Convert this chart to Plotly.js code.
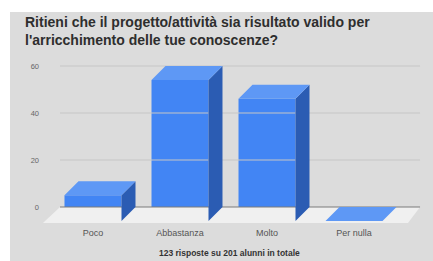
<!DOCTYPE html>
<html>
<head>
<meta charset="utf-8">
<script src="https://cdn.plot.ly/plotly-3.0.1.min.js"></script>
<style>
html,body{margin:0;padding:0;background:#ffffff;width:433px;height:261px;overflow:hidden;}
#chart{position:absolute;left:10px;top:12px;width:423px;height:249px;}
</style>
</head>
<body>
<div id="chart"></div>
<script>
// ---- data ----
const categories = ["Poco", "Abbastanza", "Molto", "Per nulla"];
const values = [11, 60, 52, 0];
const yTickVals = [0, 20, 40, 60];
const titleLine1 = "Ritieni che il progetto/attività sia risultato valido per";
const titleLine2 = "l'arricchimento delle tue conoscenze?";
const footnote = "123 risposte su 201 alunni in totale";

// ---- style / geometry (in axis units) ----
const barW = 0.655;       // front face width
const depthX = 0.161;     // 3D depth offset along x
const depthY = 5.96;      // 3D depth offset along y
const wallLeft = -0.379, wallRight = 3.759;
const floorFront = -6.8, floorFL = -0.575, floorFR = 3.621;
const cFront = "#4285f4", cSide = "#2b5cb3", cTop = "#5e98f5";
const bg = "#dcdcdc";

const xs = categories.map((c, i) => i);
const traces = [];

// floor
traces.push({type: "scatter", mode: "lines", fill: "toself", fillcolor: "#f0f0f0",
  line: {width: 0}, hoverinfo: "skip", showlegend: false,
  x: [wallLeft, wallRight, floorFR, floorFL, wallLeft],
  y: [0, 0, floorFront, floorFront, 0]});

// gridlines on back wall
yTickVals.forEach(v => {
  traces.push({type: "scatter", mode: "lines", hoverinfo: "skip", showlegend: false,
    x: [wallLeft, wallRight], y: [v, v],
    line: {color: v === 0 ? "#7a7a7a" : "#c6c6c6", width: 1}});
});

// side and top faces
xs.forEach((x, i) => {
  const v = values[i];
  const r = x + barW / 2, l = x - barW / 2;
  traces.push({type: "scatter", mode: "lines", fill: "toself", fillcolor: cSide,
    line: {width: 0}, hoverinfo: "skip", showlegend: false,
    x: [r, r + depthX, r + depthX, r, r],
    y: [-depthY, 0, v, v - depthY, -depthY]});
  traces.push({type: "scatter", mode: "lines", fill: "toself", fillcolor: cTop,
    line: {width: 0}, hoverinfo: "skip", showlegend: false,
    x: [l, r, r + depthX, l + depthX, l],
    y: [v - depthY, v - depthY, v, v, v - depthY]});
});

// front faces
traces.push({type: "bar", x: xs, y: values, base: values.map(() => -depthY),
  width: barW, marker: {color: cFront, line: {width: 0}}, showlegend: false,
  hoverinfo: "skip"});

const layout = {
  width: 423, height: 249,
  margin: {l: 30, r: 8, t: 40, b: 35},
  paper_bgcolor: bg, plot_bgcolor: bg,
  showlegend: false,
  xaxis: {range: [-0.609, 3.816], tickvals: xs, ticktext: categories,
    showgrid: false, zeroline: false, showline: false, ticks: "",
    tickfont: {family: "Liberation Sans, Arial, sans-serif", size: 9, color: "#555555"}},
  yaxis: {range: [-8.085, 65.96], tickvals: yTickVals, ticktext: yTickVals.map(String),
    showgrid: false, zeroline: false, showline: false, ticks: "",
    tickfont: {family: "Liberation Sans, Arial, sans-serif", size: 7.5, color: "#666666"}},
  annotations: [
    {text: "<b>" + titleLine1 + "<br>" + titleLine2 + "</b>", xref: "paper", yref: "paper",
      x: -0.0442, y: 1.118, xanchor: "left", yanchor: "middle", align: "left", showarrow: false,
      font: {family: "Liberation Sans, Arial, sans-serif", size: 14, color: "#2e2e2e"}},
    {text: "<b>" + footnote + "</b>", xref: "paper", yref: "paper", x: 0.4935, y: -0.155,
      xanchor: "center", yanchor: "middle", showarrow: false,
      font: {family: "Liberation Sans, Arial, sans-serif", size: 8.5, color: "#333333"}}
  ]
};

Plotly.newPlot("chart", traces, layout, {displayModeBar: false, staticPlot: true});
</script>
</body>
</html>
